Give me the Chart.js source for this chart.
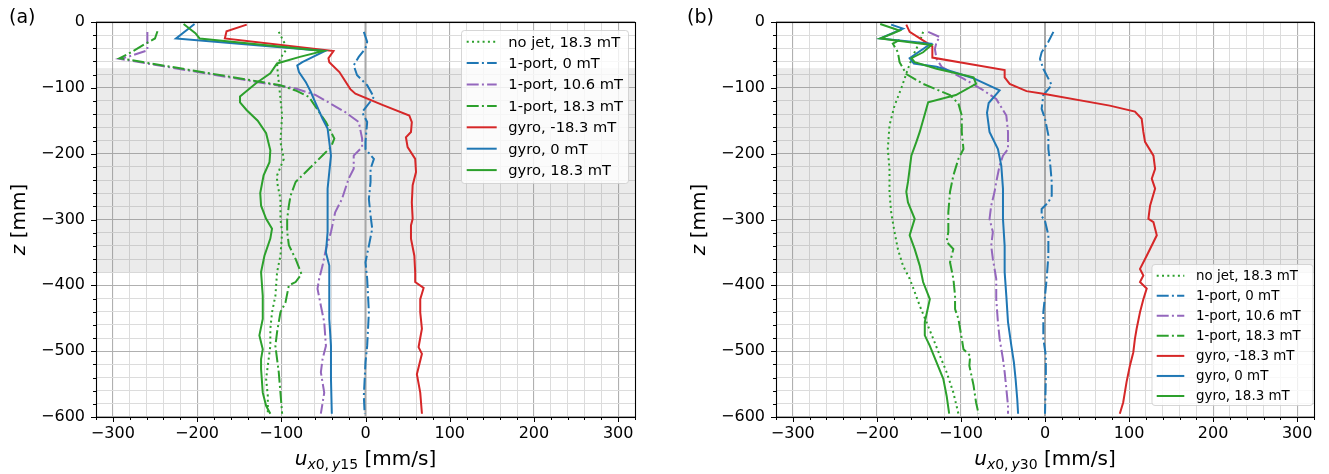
<!DOCTYPE html>
<html>
<head>
<meta charset="utf-8">
<script src="https://cdn.jsdelivr.net/npm/chart.js@4.4.1/dist/chart.umd.min.js"></script>
<style>
  html, body { margin: 0; padding: 0; background: #fff; }
  #wrap { position: relative; width: 1329px; height: 474px; }
  canvas { position: absolute; top: 0; }
</style>
</head>
<body>
<div id="wrap">
  <canvas id="pa" width="664" height="474" style="left:0"></canvas>
  <canvas id="pb" width="665" height="474" style="left:664px"></canvas>
</div>
<script>
// velocity profiles u(z), panel (a) at y = 15, panel (b) at y = 30
const seriesLabels = ['no jet, 18.3 mT', '1-port, 0 mT', '1-port, 10.6 mT', '1-port, 18.3 mT',
                      'gyro, -18.3 mT', 'gyro, 0 mT', 'gyro, 18.3 mT'];
const seriesColors = ['#2ca02c', '#1f77b4', '#9467bd', '#2ca02c', '#d62728', '#1f77b4', '#2ca02c'];
const seriesStyles = ['dot', 'dashdot', 'dashdot', 'dashdot', 'solid', 'solid', 'solid'];

const uTicks = [-300, -200, -100, 0, 100, 200, 300];
const zTicks = [-600, -500, -400, -300, -200, -100, 0];
const uLimits = [-320, 320];
const zLimits = [-600, 0];
const bandZ = [-380, -70];

// ---- panel (a), y15 ----
const a_noJet_z = [-15, -30, -40, -51, -66, -91, -117, -142, -182, -208, -233, -243, -269, -299, -319, -355, -380, -416, -441, -466, -492, -512, -542, -568, -595];
const a_noJet_u = [-103, -97, -93, -99, -105, -103, -101, -99, -101, -97, -105, -105, -101, -101, -99, -101, -105, -107, -111, -113, -113, -115, -118, -116, -116];

const a_port0_z = [-15, -30, -40, -53, -66, -81, -96, -114, -127, -137, -152, -182, -193, -208, -223, -243, -269, -294, -314, -340, -365, -390, -441, -492, -517, -568, -595];
const a_port0_u = [-2, 2, 0, -8, -14, -10, 2, 10, 2, -4, 2, 0, 0, 10, 6, 6, 4, 6, 8, 4, 0, 2, 4, 2, 0, -2, -1];

const a_port106_z = [-15, -30, -43, -52, -56, -101, -111, -137, -152, -177, -190, -203, -223, -238, -269, -289, -319, -345, -370, -390, -405, -431, -456, -492, -512, -532, -563, -595];
const a_port106_u = [-259, -259, -259, -280, -292, -83, -59, -24, -8, -4, -4, -14, -14, -20, -28, -36, -41, -47, -51, -55, -57, -53, -49, -47, -51, -53, -49, -53];

const a_port183_z = [-14, -25, -32, -48, -55, -96, -104, -114, -137, -152, -177, -190, -200, -223, -243, -264, -279, -299, -319, -339, -360, -383, -395, -400, -426, -441, -471, -492, -512, -532, -563, -595];
const a_port183_u = [-247, -250, -260, -281, -292, -101, -83, -67, -55, -47, -37, -41, -49, -67, -83, -89, -91, -93, -93, -91, -83, -76, -83, -91, -95, -101, -105, -107, -105, -103, -101, -99];

const a_gyroM_z = [-4, -14, -25, -44, -55, -61, -76, -102, -109, -126, -142, -152, -167, -175, -190, -208, -228, -248, -274, -299, -309, -329, -355, -380, -395, -404, -421, -441, -466, -494, -504, -535, -563, -595];
const a_gyroM_u = [-141, -165, -167, -38, -44, -43, -31, -18, -12, 20, 52, 55, 54, 48, 50, 59, 60, 56, 55, 56, 54, 54, 58, 59, 59, 69, 65, 65, 67, 63, 67, 61, 65, 67];

const a_gyro0_z = [-3, -25, -44, -61, -66, -76, -91, -106, -124, -147, -162, -182, -203, -228, -253, -299, -319, -350, -370, -416, -451, -492, -542, -595];
const a_gyro0_u = [-203, -225, -48, -75, -81, -79, -71, -65, -59, -51, -45, -43, -41, -43, -45, -45, -45, -47, -43, -43, -43, -41, -41, -40];

const a_gyro18_z = [-3, -17, -25, -44, -53, -63, -78, -93, -113, -122, -134, -150, -169, -195, -213, -233, -260, -279, -299, -314, -329, -355, -380, -416, -451, -476, -497, -512, -527, -563, -583, -595];
const a_gyro18_u = [-216, -202, -197, -50, -78, -105, -113, -130, -149, -149, -141, -128, -118, -113, -114, -121, -125, -124, -118, -111, -113, -120, -124, -122, -122, -126, -122, -124, -124, -122, -118, -113];

// ---- panel (b), y30 ----
const b_noJet_z = [-15, -30, -51, -71, -101, -127, -157, -193, -223, -258, -289, -319, -345, -370, -390, -410, -431, -456, -481, -507, -532, -563, -595];
const b_noJet_u = [-145, -149, -157, -163, -171, -179, -185, -187, -185, -185, -183, -179, -175, -169, -161, -155, -149, -141, -133, -125, -117, -109, -103];

const b_port0_z = [-15, -30, -46, -56, -71, -96, -111, -132, -147, -172, -193, -213, -243, -264, -274, -284, -295, -302, -324, -355, -390, -416, -441, -481, -507, -542, -595];
const b_port0_u = [10, 4, -4, -6, -2, 8, -2, -4, 0, 4, 4, 6, 8, 8, 4, -4, -4, 0, 4, 4, 2, 0, -2, -2, 1, 1, 0];

const b_port106_z = [-15, -23, -30, -41, -56, -68, -86, -104, -117, -142, -167, -193, -203, -218, -243, -258, -279, -299, -319, -340, -360, -390, -421, -456, -481, -512, -532, -557, -583, -595];
const b_port106_u = [-139, -125, -129, -131, -129, -123, -97, -73, -58, -46, -44, -44, -50, -54, -58, -60, -64, -66, -62, -64, -62, -58, -58, -56, -54, -50, -48, -46, -44, -44];

const b_port183_z = [-27, -33, -46, -61, -79, -94, -111, -124, -142, -167, -193, -208, -233, -258, -289, -319, -334, -345, -365, -390, -416, -436, -451, -481, -497, -507, -522, -552, -578, -595];
const b_port183_u = [-173, -181, -175, -173, -165, -145, -113, -103, -99, -99, -97, -103, -109, -113, -115, -115, -117, -109, -113, -109, -107, -107, -103, -99, -97, -89, -90, -85, -82, -79];

const b_gyroM_z = [-4, -15, -37, -54, -73, -84, -94, -105, -109, -127, -136, -147, -167, -182, -203, -223, -238, -253, -279, -299, -304, -324, -355, -375, -385, -395, -405, -421, -441, -466, -481, -502, -522, -547, -578, -595];
const b_gyroM_u = [-165, -161, -134, -134, -48, -48, -42, -22, -2, 77, 107, 115, 117, 119, 129, 131, 127, 131, 125, 123, 129, 133, 121, 113, 117, 113, 121, 117, 113, 109, 107, 105, 101, 97, 93, 89];

const b_gyro0_z = [-4, -10, -25, -33, -55, -63, -68, -85, -104, -123, -138, -167, -193, -218, -253, -299, -340, -380, -416, -456, -492, -517, -542, -573, -595];
const b_gyro0_u = [-183, -169, -196, -136, -161, -156, -129, -86, -54, -67, -69, -66, -56, -52, -50, -50, -48, -48, -46, -44, -40, -37, -35, -33, -32];

const b_gyro18_z = [-3, -13, -25, -35, -46, -55, -61, -71, -84, -94, -111, -122, -140, -167, -182, -203, -223, -243, -258, -274, -299, -324, -345, -370, -395, -421, -456, -476, -492, -517, -542, -568, -595];
const b_gyro18_u = [-196, -173, -196, -135, -145, -159, -155, -129, -85, -82, -106, -139, -143, -149, -153, -159, -161, -163, -165, -163, -155, -161, -155, -149, -145, -137, -143, -143, -137, -129, -121, -117, -114];

const LW = 2;
const dashes = { solid: [], dot: [LW, 3.3], dashdot: [12, 3.2, LW, 3.2] };
const fmt = v => (v < 0 ? '\u2212' + Math.abs(v) : String(v));
const isMajor = v => Math.abs(Math.round(v)) % 100 === 0;

function pts(z, u) {
  return z.map((zz, i) => ({ x: u[i], y: zz }));
}

function makeDatasets(list) {
  return list.map((s, i) => ({
    label: seriesLabels[i],
    data: pts(s[0], s[1]),
    borderColor: seriesColors[i],
    borderWidth: LW,
    borderDash: dashes[seriesStyles[i]],
    pointRadius: 0,
    tension: 0,
    fill: false,
    order: -i
  }));
}

function legendBox(ctx, lg) {
  ctx.save();
  ctx.beginPath();
  ctx.roundRect(lg.x + 0.5, lg.y + 0.5, lg.w, lg.h, 3);
  ctx.fillStyle = 'rgba(255,255,255,0.8)';
  ctx.fill();
  ctx.strokeStyle = 'rgba(204,204,204,0.8)';
  ctx.lineWidth = 1;
  ctx.stroke();
  ctx.font = lg.font + 'px "DejaVu Sans"';
  ctx.textBaseline = 'middle';
  ctx.fillStyle = '#000';
  seriesLabels.forEach((lab, i) => {
    const y = lg.row0 + i * lg.rowStep;
    ctx.beginPath();
    ctx.setLineDash(dashes[seriesStyles[i]]);
    ctx.strokeStyle = seriesColors[i];
    ctx.lineWidth = LW;
    ctx.moveTo(lg.lineX, y);
    ctx.lineTo(lg.lineX + lg.lineLen, y);
    ctx.stroke();
    ctx.setLineDash([]);
    ctx.fillText(lab, lg.textX, y + 1);
  });
  ctx.restore();
}

// u_{x0,yNN} [mm/s], letters italic, digits upright
function xTitle(ctx, cx, base, sub) {
  const big = 20, small = 14;
  const pieces = [
    { t: 'u', f: 'italic ' + big + 'px "DejaVu Sans"', dy: 0 },
    { t: 'x', f: 'italic ' + small + 'px "DejaVu Sans"', dy: 4 },
    { t: '0,', f: small + 'px "DejaVu Sans"', dy: 4, gap: 3 },
    { t: 'y', f: 'italic ' + small + 'px "DejaVu Sans"', dy: 4 },
    { t: sub, f: small + 'px "DejaVu Sans"', dy: 4 },
    { t: ' [mm/s]', f: big + 'px "DejaVu Sans"', dy: 0 }
  ];
  let total = 0;
  pieces.forEach(p => { ctx.font = p.f; p.w = ctx.measureText(p.t).width + (p.gap || 0); total += p.w; });
  let x = cx - total / 2;
  ctx.fillStyle = '#000';
  ctx.textBaseline = 'alphabetic';
  ctx.textAlign = 'left';
  pieces.forEach(p => { ctx.font = p.f; ctx.fillText(p.t, x, base + p.dy); x += p.w; });
}

function yTitle(ctx, bx, cy) {
  ctx.save();
  ctx.translate(bx, cy);
  ctx.rotate(-Math.PI / 2);
  ctx.font = 'italic 20px "DejaVu Sans"';
  const w1 = ctx.measureText('z').width;
  ctx.font = '20px "DejaVu Sans"';
  const w2 = ctx.measureText(' [mm]').width;
  ctx.fillStyle = '#000';
  ctx.textBaseline = 'alphabetic';
  ctx.textAlign = 'left';
  ctx.font = 'italic 20px "DejaVu Sans"';
  ctx.fillText('z', -(w1 + w2) / 2, 0);
  ctx.font = '20px "DejaVu Sans"';
  ctx.fillText(' [mm]', -(w1 + w2) / 2 + w1, 0);
  ctx.restore();
}

const decor = {
  id: 'decor',
  beforeDatasetsDraw(chart, args, o) {
    const { ctx, chartArea: a, scales: { x, y } } = chart;
    ctx.save();
    // shaded depth band
    const y1 = y.getPixelForValue(bandZ[1]), y0 = y.getPixelForValue(bandZ[0]);
    ctx.fillStyle = 'rgba(128,128,128,0.16)';
    ctx.fillRect(a.left, y1, a.right - a.left, y0 - y1);
    // zero line
    const x0 = x.getPixelForValue(0);
    ctx.strokeStyle = '#a8a8a8';
    ctx.lineWidth = 2;
    ctx.beginPath();
    ctx.moveTo(x0, a.top);
    ctx.lineTo(x0, a.bottom);
    ctx.stroke();
    ctx.restore();
  },
  afterDatasetsDraw(chart, args, o) {
    const { ctx, chartArea: a, scales: { x, y } } = chart;
    ctx.save();
    // frame
    ctx.strokeStyle = '#000';
    ctx.lineWidth = 1.1;
    ctx.strokeRect(Math.round(a.left) + 0.5, Math.round(a.top) + 0.5,
                   Math.round(a.right - a.left), Math.round(a.bottom - a.top));
    // tick marks, out
    ctx.lineWidth = 1;
    ctx.beginPath();
    x.ticks.forEach(t => {
      const px = Math.round(x.getPixelForValue(t.value)) + 0.5;
      const len = isMajor(t.value) ? 5 : 3;
      ctx.moveTo(px, a.bottom);
      ctx.lineTo(px, a.bottom + len);
    });
    y.ticks.forEach(t => {
      const py = Math.round(y.getPixelForValue(t.value)) + 0.5;
      const len = isMajor(t.value) ? 5 : 3;
      ctx.moveTo(a.left, py);
      ctx.lineTo(a.left - len, py);
    });
    ctx.stroke();
    ctx.restore();

    ctx.save();
    legendBox(ctx, o.legend);
    xTitle(ctx, (a.left + a.right) / 2, 465, o.sub);
    yTitle(ctx, o.yTitleX, (a.top + a.bottom) / 2);
    ctx.font = '19px "DejaVu Sans"';
    ctx.fillStyle = '#000';
    ctx.textAlign = 'left';
    ctx.textBaseline = 'alphabetic';
    ctx.fillText(o.letter, o.letterX, 23);
    ctx.restore();
  }
};

function makeChart(id, width, plotLeft, plotRight, series, opts) {
  const gridOpts = {
    color: c => (c.tick && isMajor(c.tick.value) ? '#b0b0b0' : '#dcdcdc'),
    lineWidth: c => (c.tick && isMajor(c.tick.value) ? 1.1 : 1),
    drawTicks: false
  };
  return new Chart(document.getElementById(id), {
    type: 'line',
    data: { datasets: makeDatasets(series) },
    options: {
      responsive: false,
      animation: false,
      events: [],
      layout: { padding: { left: 0, top: 22, right: width - plotRight, bottom: 0 } },
      scales: {
        x: {
          type: 'linear',
          min: uLimits[0], max: uLimits[1],
          grid: gridOpts,
          border: { display: false },
          afterFit: s => { s.height = 57; },
          ticks: {
            stepSize: 20, autoSkip: false, maxRotation: 0, padding: 7,
            color: '#000', font: { family: 'DejaVu Sans', size: 16 },
            callback: v => (uTicks.includes(v) ? fmt(v) : '')
          }
        },
        y: {
          type: 'linear',
          min: zLimits[0], max: zLimits[1],
          grid: gridOpts,
          border: { display: false },
          afterFit: s => { s.width = plotLeft; },
          ticks: {
            stepSize: 20, autoSkip: false, padding: 11,
            color: '#000', font: { family: 'DejaVu Sans', size: 16 },
            callback: v => (zTicks.includes(v) ? fmt(v) : '')
          }
        }
      },
      plugins: { legend: { display: false }, tooltip: { enabled: false }, decor: opts }
    },
    plugins: [decor]
  });
}

makeChart('pa', 664, 96, 635, [
  [a_noJet_z, a_noJet_u], [a_port0_z, a_port0_u], [a_port106_z, a_port106_u], [a_port183_z, a_port183_u],
  [a_gyroM_z, a_gyroM_u], [a_gyro0_z, a_gyro0_u], [a_gyro18_z, a_gyro18_u]
], {
  sub: '15', letter: '(a)', letterX: 9, yTitleX: 25,
  legend: { x: 461, y: 30, w: 167, h: 153, font: 14.7, row0: 41.7, rowStep: 21.4, lineX: 466.7, lineLen: 30, textX: 508.3 }
});

makeChart('pb', 665, 112, 650, [
  [b_noJet_z, b_noJet_u], [b_port0_z, b_port0_u], [b_port106_z, b_port106_u], [b_port183_z, b_port183_u],
  [b_gyroM_z, b_gyroM_u], [b_gyro0_z, b_gyro0_u], [b_gyro18_z, b_gyro18_u]
], {
  sub: '30', letter: '(b)', letterX: 23, yTitleX: 41,
  legend: { x: 487.5, y: 264, w: 161, h: 141, font: 13.4, row0: 275.7, rowStep: 20.05, lineX: 492.7, lineLen: 27.6, textX: 532 }
});
</script>
</body>
</html>
